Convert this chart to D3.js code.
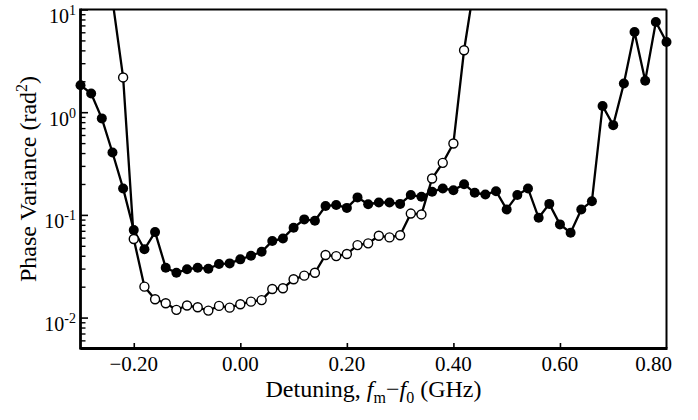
<!DOCTYPE html>
<html>
<head>
<meta charset="utf-8">
<script src="https://cdn.jsdelivr.net/npm/d3@7"></script>
<style>
  body { margin: 0; background: #fff; }
  text { font-family: "Liberation Serif", "Times New Roman", serif; fill: #000; }
</style>
</head>
<body>
<div id="chart"></div>
<script>
// Detuning values (GHz) for each series
let detuneFilled = [-0.30, -0.28, -0.26, -0.24, -0.22, -0.20, -0.18, -0.16, -0.14, -0.12,
    -0.10, -0.08, -0.06, -0.04, -0.02, 0.00, 0.02, 0.04, 0.06, 0.08,
    0.10, 0.12, 0.14, 0.16, 0.18, 0.20, 0.22, 0.24, 0.26, 0.28,
    0.30, 0.32, 0.34, 0.36, 0.38, 0.40, 0.42, 0.44, 0.46, 0.48,
    0.50, 0.52, 0.54, 0.56, 0.58, 0.60, 0.62, 0.64, 0.66, 0.68,
    0.70, 0.72, 0.74, 0.76, 0.78, 0.80];
let varianceFilled = [1.83, 1.52, 0.87, 0.405, 0.181, 0.0711, 0.0462, 0.068, 0.0306, 0.0273,
    0.0295, 0.0306, 0.0299, 0.0332, 0.0337, 0.0369, 0.040, 0.0438, 0.0556, 0.059,
    0.075, 0.0904, 0.0877, 0.122, 0.125, 0.117, 0.148, 0.127, 0.132, 0.132,
    0.128, 0.156, 0.150, 0.168, 0.181, 0.174, 0.199, 0.164, 0.158, 0.170,
    0.113, 0.156, 0.181, 0.0937, 0.128, 0.0808, 0.067, 0.113, 0.136, 1.15,
    0.748, 1.90, 6.04, 2.02, 7.55, 4.83];

let detuneOpen = [-0.24, -0.22, -0.20, -0.18, -0.16, -0.14, -0.12, -0.10, -0.08, -0.06,
    -0.04, -0.02, 0.00, 0.02, 0.04, 0.06, 0.08, 0.10, 0.12, 0.14,
    0.16, 0.18, 0.20, 0.22, 0.24, 0.26, 0.28, 0.30, 0.32, 0.34,
    0.36, 0.38, 0.40, 0.42, 0.44];
let varianceOpen = [12.4, 2.18, 0.0582, 0.020, 0.0151, 0.0138, 0.0119, 0.0131, 0.0126, 0.0117,
    0.0130, 0.0125, 0.0135, 0.0143, 0.0148, 0.019, 0.0193, 0.0236, 0.0256, 0.0273,
    0.0407, 0.0397, 0.0416, 0.0508, 0.0528, 0.0626, 0.0604, 0.0634, 0.103, 0.101,
    0.226, 0.321, 0.496, 4.01, 18.4];

let xTicks = [-0.20, 0.00, 0.20, 0.40, 0.60, 0.80];
let yTicks = [0.01, 0.1, 1, 10];
let yTickExp = ["-2", "-1", "0", "1"];

// Layout
let svgWidth = 698, svgHeight = 420;
let plot = { left: 80.5, right: 666.5, top: 9.5, bottom: 348.5 };

let svg = d3.select('#chart')
            .append('svg')
            .attr('width', svgWidth)
            .attr('height', svgHeight);

// Scales
let xScale = d3.scaleLinear()
                .domain([-0.30, 0.80])
                .range([plot.left, plot.right]);
let yScale = d3.scaleLog()
                .domain([0.005, 10])
                .range([plot.bottom, plot.top]);

// Minor y ticks (2..9 in each decade)
let yMinor = [];
[0.001, 0.01, 0.1, 1].forEach(d => {
    for (let k = 2; k <= 9; k++) {
        let v = +(d * k).toPrecision(3);
        if (v >= 0.005 && v <= 10) yMinor.push(v);
    }
});

// Y axis: inward ticks
svg.append('g')
    .attr('transform', `translate(${plot.left}, 0)`)
    .call(d3.axisLeft(yScale).tickValues(yMinor).tickSize(-5).tickFormat(''))
    .call(g => g.select('.domain').remove())
    .call(g => g.selectAll('line').attr('stroke-width', 1.4));

svg.append('g')
    .attr('transform', `translate(${plot.left}, 0)`)
    .call(d3.axisLeft(yScale).tickValues(yTicks).tickSize(-7.5).tickFormat(''))
    .call(g => g.select('.domain').remove())
    .call(g => g.selectAll('line').attr('stroke-width', 1.6));

// Y tick labels with superscripts
yTicks.forEach((v, i) => {
    let t = svg.append('text')
        .attr('x', 76)
        .attr('y', yScale(v) + 13.5)
        .attr('text-anchor', 'end')
        .style('font-size', '20px');
    t.append('tspan').text('10');
    t.append('tspan')
        .attr('dy', -8)
        .style('font-size', '14px')
        .text(yTickExp[i]);
});

// X axis: inward ticks
svg.append('g')
    .attr('transform', `translate(0, ${plot.bottom})`)
    .call(d3.axisBottom(xScale).tickValues(xTicks.filter(d => d < 0.79)).tickSize(-5.5).tickFormat(''))
    .call(g => g.select('.domain').remove())
    .call(g => g.selectAll('line').attr('stroke-width', 1.6));

svg.append('g').selectAll('text')
    .data(xTicks)
    .enter()
    .append('text')
    .attr('x', d => xScale(d) + (d > 0.79 ? -13 : 0))
    .attr('y', 371)
    .attr('text-anchor', 'middle')
    .style('font-size', '21px')
    .text(d => d3.format('.2f')(d));

// Frame
svg.append('line').attr('x1', plot.left).attr('x2', plot.right).attr('y1', plot.top).attr('y2', plot.top)
    .attr('stroke', '#000').attr('stroke-width', 2);
svg.append('line').attr('x1', plot.right).attr('x2', plot.right).attr('y1', plot.top).attr('y2', plot.bottom)
    .attr('stroke', '#000').attr('stroke-width', 2);
svg.append('line').attr('x1', plot.left).attr('x2', plot.right + 1).attr('y1', plot.bottom).attr('y2', plot.bottom)
    .attr('stroke', '#000').attr('stroke-width', 2.8);
svg.append('line').attr('x1', plot.left).attr('x2', plot.left).attr('y1', plot.top - 1).attr('y2', plot.bottom + 1)
    .attr('stroke', '#000').attr('stroke-width', 2.8);

// Clip for lines
svg.append('clipPath').attr('id', 'plotClip')
    .append('rect')
    .attr('x', plot.left).attr('y', plot.top)
    .attr('width', plot.right - plot.left).attr('height', plot.bottom - plot.top);

let line = d3.line()
    .x(d => xScale(d[0]))
    .y(d => yScale(d[1]));

let filled = detuneFilled.map((d, i) => [d, varianceFilled[i]]);
let open = detuneOpen.map((d, i) => [d, varianceOpen[i]]);
let inDomain = d => d[1] <= 10 && d[1] >= 0.005;

let dataG = svg.append('g');

dataG.append('path')
    .datum(filled)
    .attr('clip-path', 'url(#plotClip)')
    .attr('d', line)
    .attr('fill', 'none')
    .attr('stroke', '#000')
    .attr('stroke-width', 2.3);

dataG.selectAll('.dotFilled')
    .data(filled.filter(inDomain))
    .enter()
    .append('circle')
    .attr('class', 'dotFilled')
    .attr('cx', d => xScale(d[0]))
    .attr('cy', d => yScale(d[1]))
    .attr('r', 5)
    .attr('fill', '#000');

dataG.append('path')
    .datum(open)
    .attr('clip-path', 'url(#plotClip)')
    .attr('d', line)
    .attr('fill', 'none')
    .attr('stroke', '#000')
    .attr('stroke-width', 2.3);

dataG.selectAll('.dotOpen')
    .data(open.filter(inDomain))
    .enter()
    .append('circle')
    .attr('class', 'dotOpen')
    .attr('cx', d => xScale(d[0]))
    .attr('cy', d => yScale(d[1]))
    .attr('r', 4.5)
    .attr('fill', '#fff')
    .attr('stroke', '#000')
    .attr('stroke-width', 1.4);

// Axis titles
let xTitle = svg.append('text')
    .attr('x', (plot.left + plot.right) / 2)
    .attr('y', 397)
    .attr('text-anchor', 'middle')
    .style('font-size', '24px');
xTitle.append('tspan').text('Detuning, ');
xTitle.append('tspan').style('font-style', 'italic').text('f');
xTitle.append('tspan').attr('dy', 6).style('font-size', '16px').text('m');
xTitle.append('tspan').attr('dy', -6).text('\u2212');
xTitle.append('tspan').style('font-style', 'italic').text('f');
xTitle.append('tspan').attr('dy', 6).style('font-size', '16px').text('0');
xTitle.append('tspan').attr('dy', -6).text(' (GHz)');

let yTitle = svg.append('text')
    .attr('transform', `translate(36, ${(plot.top + plot.bottom) / 2}) rotate(-90)`)
    .attr('text-anchor', 'middle')
    .style('font-size', '24px');
yTitle.append('tspan').text('Phase Variance (rad');
yTitle.append('tspan').attr('dy', -9).style('font-size', '16px').text('2');
yTitle.append('tspan').attr('dy', 9).text(')');
</script>
</body>
</html>
